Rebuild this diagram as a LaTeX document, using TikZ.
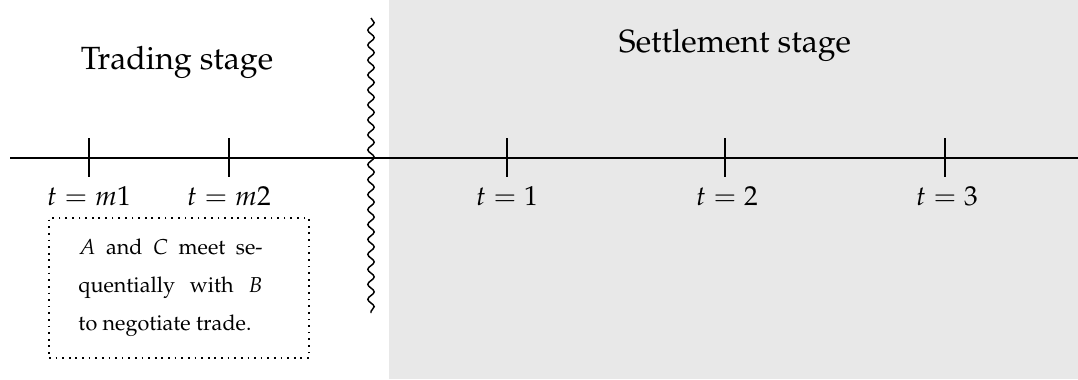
\documentclass[tikz,border=0pt]{standalone}
\usepackage[T1]{fontenc}
\usepackage{mathpazo}
\usetikzlibrary{decorations.pathmorphing}
\definecolor{settlegray}{gray}{0.91}
\tikzset{
  axisline/.style={line width=0.7pt},
  tickline/.style={line width=0.7pt},
  wavyline/.style={line width=0.6pt, decorate, decoration={snake, segment length=6.1pt, amplitude=1.3pt}},
  stagelabel/.style={font=\fontsize{13.1}{16}\selectfont, inner sep=0pt},
  timelabel/.style={font=\fontsize{11.2}{13}\selectfont, inner sep=0pt},
  notebox/.style={draw, dotted, line width=0.7pt, minimum width=106.1pt, minimum height=57.1pt, inner sep=0pt},
  notetext/.style={inner sep=0pt, font=\fontsize{8.8}{15.5}\selectfont}
}
\begin{document}
\begin{tikzpicture}[x=0.408pt,y=-0.408pt]
\useasboundingbox (0,0) rectangle (1078,379);
\fill[settlegray] (389,0) rectangle (1078,379);
% axis
\coordinate (axL) at (10,158);
\coordinate (axR) at (1078,158);
\draw[axisline] (axL) -- (axR);
% wavy separator
\coordinate (wTop) at (371,18);
\coordinate (wBot) at (371,313);
\draw[wavyline] (wTop) -- (wBot);
% ticks
\foreach \n/\x in {m1/89, m2/229, s1/507, s2/725, s3/945}{
  \coordinate (\n top) at (\x,138);
  \coordinate (\n bot) at (\x,177);
  \draw[tickline] (\n top) -- (\n bot);
}
% stage titles
\node[stagelabel] (trading) at (177,62) {Trading stage};
\node[stagelabel] (settle) at (735,45) {Settlement stage};
% time labels
\node[timelabel] (lm1) at (89,196) {$t=m1$};
\node[timelabel] (lm2) at (229,196) {$t=m2$};
\node[timelabel] (l1) at (507,196) {$t=1$};
\node[timelabel] (l2) at (727,196) {$t=2$};
\node[timelabel] (l3) at (947,196) {$t=3$};
% note box
\node[notebox] (box) at (179,288) {};
\node[notetext, anchor=west] (note) at (78,288) {\parbox{75.1pt}{\fontsize{8.8}{15.5}\selectfont $A$ and $C$ meet se-\linebreak quentially with $B$\linebreak to negotiate trade.}};
\end{tikzpicture}
\end{document}
